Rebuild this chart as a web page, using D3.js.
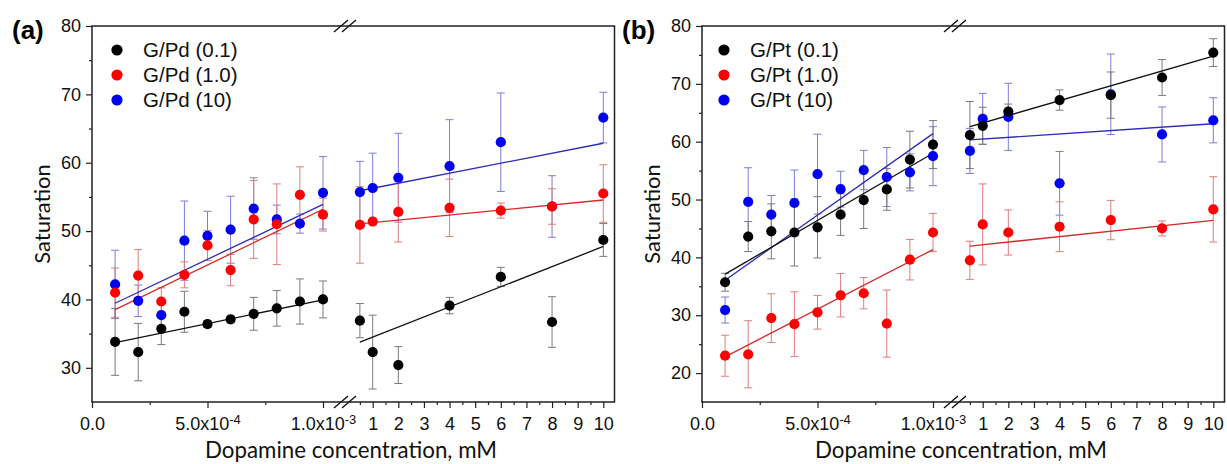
<!DOCTYPE html>
<html>
<head>
<meta charset="utf-8">
<script src="https://cdn.jsdelivr.net/npm/d3@7"></script>
<style>
  body { margin: 0; background: #fff; }
  text { font-family: "Liberation Sans", Arial, sans-serif; }
</style>
</head>
<body>
<svg id="chart" width="1227" height="464"></svg>
<script>
/* Datos: concentraciones (mM) */
const xLeft = [0.0001, 0.0002, 0.0003, 0.0004, 0.0005, 0.0006, 0.0007, 0.0008, 0.0009, 0.001];
const xRight = [0.5, 1, 2, 4, 6, 8, 10];

/* Ticks */
const leftTicks = [0, 0.0005, 0.001];
const leftTickBase = ["0.0", "5.0x10", "1.0x10"];
const leftTickExp = ["", "-4", "-3"];
const leftMinor = [0.00025, 0.00075];
const rightTicks = [1, 2, 3, 4, 5, 6, 7, 8, 9, 10];
const rightMinor = [0.5, 1.5, 2.5, 3.5, 4.5, 5.5, 6.5, 7.5, 8.5, 9.5];

/* (a) G/Pd : negro (0.1), rojo (1.0), azul (10) */
const pdLabels = ["G/Pd (0.1)", "G/Pd (1.0)", "G/Pd (10)"];
const pdBlackL = [33.8, 32.3, 35.7, 38.2, 36.4, 37.1, 37.9, 38.7, 39.7, 40.0];
const pdBlackLErr = [4.9, 4.2, 2.3, 3.0, 0.5, 0.5, 2.4, 2.6, 3.3, 2.7];
const pdRedL = [41.0, 43.5, 39.7, 43.6, 47.9, 44.3, 51.7, 51.0, 55.3, 52.4];
const pdRedLErr = [3.6, 3.8, 2.0, 1.9, 2.2, 2.3, 5.7, 5.9, 4.1, 2.4];
const pdBlueL = [42.2, 39.8, 37.7, 48.6, 49.3, 50.2, 53.3, 51.7, 51.1, 55.6];
const pdBlueLErr = [5.0, 2.3, 1.7, 5.8, 3.6, 4.9, 4.5, 2.1, 1.4, 5.3];
const pdBlackR = [36.9, 32.3, 30.4, 39.1, 43.3, 36.7, 48.7];
const pdBlackRErr = [2.5, 5.4, 2.7, 1.2, 1.4, 3.7, 2.4];
const pdRedR = [50.9, 51.4, 52.8, 53.4, 53.0, 53.6, 55.5];
const pdRedRErr = [5.6, 0.5, 4.4, 4.2, 1.1, 2.6, 4.2];
const pdBlueR = [55.7, 56.3, 57.8, 59.5, 63.0, 53.6, 66.6];
const pdBlueRErr = [4.5, 5.1, 6.5, 6.8, 7.2, 4.5, 3.7];
// rectas de ajuste [x0, y0, x1, y1]
const pdFitL = [[0.0001, 33.7, 0.001, 39.95], [0.0001, 38.5, 0.001, 53.2], [0.0001, 39.45, 0.001, 53.9]];
const pdFitR = [[0.5, 33.75, 10, 47.75], [0.5, 51.05, 10, 54.55], [0.5, 55.9, 10, 62.85]];

/* (b) G/Pt */
const ptLabels = ["G/Pt (0.1)", "G/Pt (1.0)", "G/Pt (10)"];
const ptBlackL = [35.7, 43.6, 44.5, 44.3, 45.2, 47.4, 49.9, 51.75, 56.9, 59.5];
const ptBlackLErr = [1.55, 2.6, 4.75, 5.8, 5.3, 3.6, 4.9, 3.6, 4.9, 4.15];
const ptRedL = [23.0, 23.25, 29.5, 28.45, 30.5, 33.45, 33.8, 28.55, 39.6, 44.3];
const ptRedLErr = [3.55, 5.8, 4.2, 5.6, 2.9, 3.75, 2.7, 5.8, 3.5, 3.3];
const ptBlueL = [30.9, 49.6, 47.4, 49.4, 54.4, 51.8, 55.1, 53.9, 54.7, 57.5];
const ptBlueLErr = [2.25, 5.9, 3.3, 5.7, 6.9, 3.1, 3.4, 5.1, 3.2, 5.1];
const ptBlackR = [61.15, 62.75, 65.2, 67.2, 68.05, 71.1, 75.4];
const ptBlackRErr = [5.8, 3.2, 1.3, 1.75, 4.0, 3.1, 2.4];
const ptRedR = [39.5, 45.7, 44.3, 45.3, 46.45, 45.0, 48.3];
const ptRedRErr = [3.3, 7.0, 3.9, 4.3, 3.4, 1.3, 5.65];
const ptBlueR = [58.4, 63.95, 64.3, 52.8, 68.2, 61.25, 63.7];
const ptBlueRErr = [3.9, 4.4, 5.8, 5.5, 6.95, 4.75, 3.9];
const ptFitL = [[0.0001, 37.1, 0.001, 58.0], [0.0001, 22.8, 0.001, 41.35], [0.0001, 36.05, 0.001, 61.4]];
const ptFitR = [[0.5, 62.6, 10, 74.8], [0.5, 41.95, 10, 46.4], [0.5, 60.3, 10, 63.1]];

/* Colores: negro, rojo, azul */
const dotColors = ["#000000", "#ff0000", "#0000f0"];
const errColors = ["#7a7a7a", "#e07d7d", "#7d7dd8"];
const fitColors = ["#111111", "#d42a2a", "#2c2cb4"];

const svg = d3.select("#chart");
const yTop = 26, yBottom = 402, frameW = 522.5, breakX = 253;
const xL = d3.scaleLinear().domain([0, 0.001]).range([0, 231]);
const xR = d3.scaleLinear().domain([1, 10]).range([280.7, 511.3]);

function drawPanel(ox, cfg) {
  const g = svg.append("g").attr("transform", `translate(${ox},0)`);
  const y = d3.scaleLinear().domain(cfg.yDomain).range([yBottom, yTop]);

  const gErr = g.append("g"), gFit = g.append("g"), gDot = g.append("g");

  [2, 1, 0].forEach((i) => {
    const segs = [
      [xLeft, xL, cfg.valsL[i], cfg.errsL[i], cfg.fitsL[i]],
      [xRight, xR, cfg.valsR[i], cfg.errsR[i], cfg.fitsR[i]],
    ];
    segs.forEach(([xs, sx, vals, errs, fit]) => {
      const pts = xs.map((x, k) => ({ x: sx(x), v: vals[k], e: errs[k] }));

      gErr
        .append("g")
        .selectAll("path")
        .data(pts)
        .join("path")
        .attr("d", (p) => `M${p.x},${y(p.v - p.e)}V${y(p.v + p.e)}M${p.x - 4},${y(p.v + p.e)}h8M${p.x - 4},${y(p.v - p.e)}h8`)
        .attr("fill", "none")
        .attr("stroke", errColors[i])
        .attr("stroke-width", 1);

      gFit
        .append("line")
        .attr("x1", sx(fit[0]))
        .attr("y1", y(fit[1]))
        .attr("x2", sx(fit[2]))
        .attr("y2", y(fit[3]))
        .attr("stroke", fitColors[i])
        .attr("stroke-width", 1.3);

      gDot
        .append("g")
        .selectAll("circle")
        .data(pts)
        .join("circle")
        .attr("cx", (p) => p.x)
        .attr("cy", (p) => y(p.v))
        .attr("r", 5.1)
        .attr("fill", dotColors[i]);
    });
  });

  // Ejes
  const styleAxis = (a) => {
    a.select(".domain").remove();
    a.selectAll(".tick line").attr("stroke", "#222").attr("stroke-width", 1.2);
    a.selectAll(".tick text").attr("fill", "#111").style("font-size", "18px").style("font-family", '"Liberation Sans", Arial, sans-serif');
  };

  const gx = g.append("g").attr("transform", `translate(0,${yBottom})`);
  gx.append("g")
    .call(d3.axisBottom(xL).tickValues(leftTicks).tickSize(6).tickPadding(9))
    .call(styleAxis)
    .call((a) =>
      a.selectAll(".tick text").each(function (v, k) {
        const t = d3.select(this).text(null);
        t.append("tspan").text(leftTickBase[k]);
        if (leftTickExp[k]) t.append("tspan").attr("dy", "-0.45em").style("font-size", "13px").text(leftTickExp[k]);
      })
    );
  gx.append("g").call(d3.axisBottom(xL).tickValues(leftMinor).tickSize(3).tickFormat("")).call(styleAxis);
  gx.append("g").call(d3.axisBottom(xR).tickValues(rightTicks).tickSize(6).tickPadding(9).tickFormat(d3.format("d"))).call(styleAxis);
  gx.append("g").call(d3.axisBottom(xR).tickValues(rightMinor).tickSize(3).tickFormat("")).call(styleAxis);

  g.append("g").call(d3.axisLeft(y).tickValues(cfg.yTicks).tickSize(6).tickPadding(5)).call(styleAxis);
  g.append("g").call(d3.axisLeft(y).tickValues(cfg.yMinor).tickSize(3).tickFormat("")).call(styleAxis);

  // Marco
  g.append("rect")
    .attr("x", 0)
    .attr("y", yTop)
    .attr("width", frameW)
    .attr("height", yBottom - yTop)
    .attr("fill", "none")
    .attr("stroke", "#222")
    .attr("stroke-width", 1.5);

  // Marcas de corte
  [yTop, yBottom].forEach((yy) => {
    [-4, 4].forEach((dx) => {
      g.append("line")
        .attr("x1", breakX + dx - 7)
        .attr("y1", yy + 6)
        .attr("x2", breakX + dx + 7)
        .attr("y2", yy - 6)
        .attr("stroke", "#111")
        .attr("stroke-width", 1.4);
    });
  });

  // Leyenda
  const lg = g.append("g");
  cfg.labels.forEach((lab, i) => {
    const ly = 50 + i * 25;
    lg.append("circle").attr("cx", cfg.legendX).attr("cy", ly).attr("r", 5.6).attr("fill", dotColors[i]);
    lg.append("text").attr("x", cfg.legendX + 26).attr("y", ly).attr("dy", "0.36em").style("font-size", "20.5px").attr("fill", "#111").text(lab);
  });

  // Títulos
  g.append("text").attr("x", -80).attr("y", 39).style("font-size", "26px").style("font-weight", "bold").text(cfg.tag);
  g.append("text")
    .attr("transform", `translate(-42,${(yTop + yBottom) / 2}) rotate(-90)`)
    .attr("text-anchor", "middle")
    .style("font-family", "Lato, sans-serif")
    .style("font-size", "22px")
    .attr("fill", "#111")
    .text("Saturation");
  g.append("text")
    .attr("x", 259)
    .attr("y", 458)
    .attr("text-anchor", "middle")
    .style("font-family", "Lato, sans-serif")
    .style("font-size", "22.3px")
    .attr("fill", "#111")
    .text("Dopamine concentration, mM");
}

drawPanel(92, {
  tag: "(a)",
  yDomain: [25, 80],
  yTicks: [30, 40, 50, 60, 70, 80],
  yMinor: [35, 45, 55, 65, 75],
  labels: pdLabels,
  legendX: 25,
  valsL: [pdBlackL, pdRedL, pdBlueL],
  errsL: [pdBlackLErr, pdRedLErr, pdBlueLErr],
  valsR: [pdBlackR, pdRedR, pdBlueR],
  errsR: [pdBlackRErr, pdRedRErr, pdBlueRErr],
  fitsL: pdFitL,
  fitsR: pdFitR,
});

drawPanel(702, {
  tag: "(b)",
  yDomain: [15, 80],
  yTicks: [20, 30, 40, 50, 60, 70, 80],
  yMinor: [25, 35, 45, 55, 65, 75],
  labels: ptLabels,
  legendX: 22,
  valsL: [ptBlackL, ptRedL, ptBlueL],
  errsL: [ptBlackLErr, ptRedLErr, ptBlueLErr],
  valsR: [ptBlackR, ptRedR, ptBlueR],
  errsR: [ptBlackRErr, ptRedRErr, ptBlueRErr],
  fitsL: ptFitL,
  fitsR: ptFitR,
});
</script>
</body>
</html>
